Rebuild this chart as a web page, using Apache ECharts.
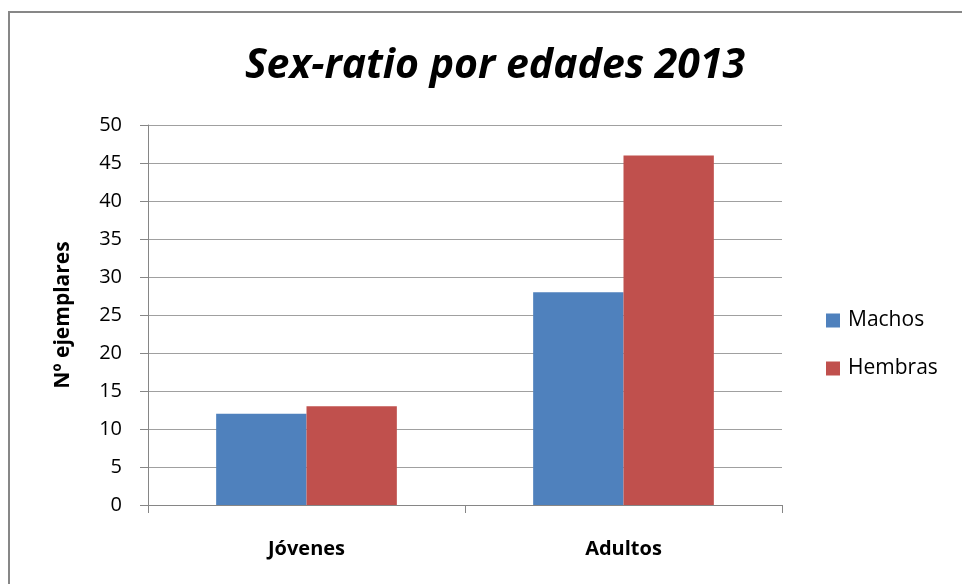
<!DOCTYPE html>
<html lang="es">
<head>
    <meta charset="UTF-8">
    <title>Sex-ratio por edades 2013</title>
    <script src="https://cdn.jsdelivr.net/npm/echarts@6/dist/echarts.min.js"></script>
    <style>
        html, body { margin: 0; padding: 0; background: #fff; }
    </style>
</head>
<body>
    <div id="chart" style="width: 962px; height: 584px;"></div>
    <script>
    // datos
    var categorias = ['Jóvenes', 'Adultos'];
    var machos = [12, 28];
    var hembras = [13, 46];

    var fuente = '"Open Sans", Lato, sans-serif';
    var chart = echarts.init(document.getElementById('chart'));

    var option = {
        backgroundColor: '#fff',
        animation: false,
        title: {
            text: 'Sex-ratio por edades 2013',
            left: 490,
            top: 41,
            textAlign: 'center',
            textStyle: {
                fontFamily: fuente,
                fontStyle: 'italic',
                fontWeight: 'bold',
                fontSize: 41,
                color: '#000'
            }
        },
        graphic: [{
            // marco del gráfico
            type: 'rect',
            shape: { x: 9, y: 12, width: 1000, height: 620 },
            style: { fill: 'none', stroke: '#878787', lineWidth: 2 },
            silent: true
        }],
        legend: {
            orient: 'vertical',
            left: 821,
            top: 305,
            itemWidth: 14,
            itemHeight: 14,
            itemGap: 27,
            icon: 'rect',
            textStyle: { fontFamily: fuente, fontSize: 21, color: '#000', padding: [0, 0, 0, 3] },
            data: ['Machos', 'Hembras']
        },
        grid: { left: 148, right: 180, top: 125, bottom: 79 },
        xAxis: {
            type: 'category',
            data: categorias,
            axisLine: { lineStyle: { color: '#868686', width: 1 } },
            axisTick: { show: true, length: 8, lineStyle: { color: '#868686' } },
            axisLabel: {
                fontFamily: fuente,
                fontWeight: 'bold',
                fontSize: 20,
                color: '#000',
                margin: 34
            }
        },
        yAxis: {
            type: 'value',
            min: 0,
            max: 50,
            interval: 5,
            name: 'Nº ejemplares',
            nameLocation: 'middle',
            nameGap: 74,
            nameTextStyle: { fontFamily: fuente, fontWeight: 'bold', fontSize: 21, color: '#000' },
            axisLine: { show: true, lineStyle: { color: '#868686' } },
            axisTick: { show: true, length: 8, lineStyle: { color: '#868686' } },
            axisLabel: { fontFamily: fuente, fontSize: 20, color: '#000', margin: 26 },
            splitLine: { lineStyle: { color: '#a0a0a0', width: 1 } }
        },
        series: [{
            name: 'Machos',
            type: 'bar',
            data: machos,
            barGap: '0%',
            barCategoryGap: '43%',
            itemStyle: { color: '#4f81bd' }
        }, {
            name: 'Hembras',
            type: 'bar',
            data: hembras,
            itemStyle: { color: '#c0504d' }
        }]
    };

    chart.setOption(option);
    </script>
</body>
</html>
